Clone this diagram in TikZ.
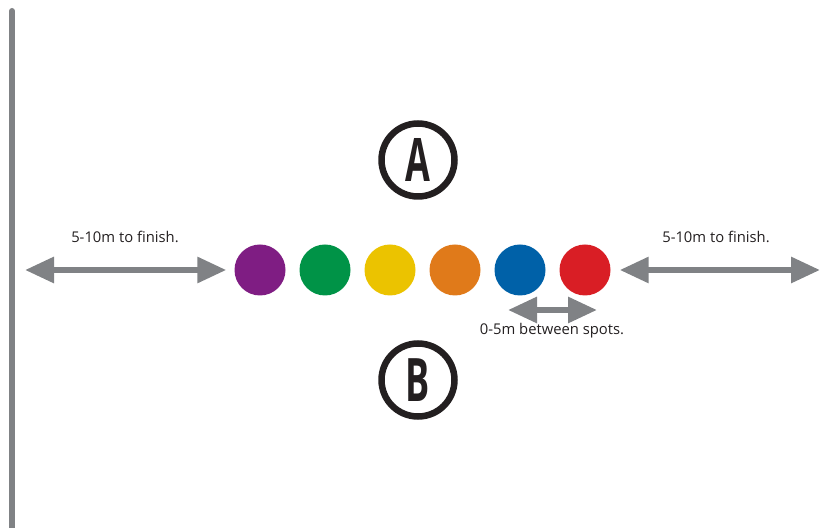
\documentclass[tikz,border=0pt]{standalone}
\usepackage{fontspec}
\setmainfont{Open Sans}
\usetikzlibrary{arrows.meta}

\definecolor{spotpurple}{HTML}{7F1D83}
\definecolor{spotgreen}{HTML}{009347}
\definecolor{spotyellow}{HTML}{EBC300}
\definecolor{spotorange}{HTML}{E07A1A}
\definecolor{spotblue}{HTML}{0061A8}
\definecolor{spotred}{HTML}{D91E25}
\definecolor{markgrey}{HTML}{808285}
\definecolor{inkgrey}{HTML}{231F20}

\tikzset{
  spot/.style={circle,minimum size=51pt,inner sep=0pt},
  team/.style={circle,draw=inkgrey,line width=6.5pt,minimum size=73pt,inner sep=0pt,
    text=inkgrey,font=\fontsize{60}{60}\selectfont\bfseries},
  dimarrow/.style={draw=markgrey,line width=6pt,
    {Triangle[length=29pt,width=25pt]}-{Triangle[length=29pt,width=25pt]}},
  label/.style={text=inkgrey,font=\fontsize{14.8}{16}\selectfont}
}

\begin{document}
\begin{tikzpicture}[x=1pt,y=1pt]
  \useasboundingbox (0,0) rectangle (826,527);
  % finish line
  \draw[markgrey,line width=6pt,line cap=round] (12,-5) -- (12,516);

  % teams
  \node (ta) at (418,367) [team] {\scalebox{0.6}[1]{A}};
  \node (tb) at (418,147) [team] {\scalebox{0.6}[1]{B}};

  % spots
  \node (pu) at (260,257) [spot,fill=spotpurple] {};
  \node (gr) at (325,257) [spot,fill=spotgreen] {};
  \node (ye) at (390,257) [spot,fill=spotyellow] {};
  \node (or) at (455,257) [spot,fill=spotorange] {};
  \node (bl) at (520,257) [spot,fill=spotblue] {};
  \node (re) at (585,257) [spot,fill=spotred] {};

  % distances
  \coordinate (lend) at (25,257);
  \coordinate (rend) at (820,257);
  \draw[dimarrow] (lend) -- ([xshift=-8pt]pu.west);
  \draw[dimarrow] ([xshift=9pt]re.east) -- (rend);
  \draw[dimarrow] ([shift={(-12pt,-40pt)}]bl.center) -- ([shift={(12pt,-40pt)}]re.center);

  \node (lt) at (125,290) [label] {5-10m to finish.};
  \node (rt) at (716,290) [label] {5-10m to finish.};
  \node (gap) at (552,196) [label] {0-5m between spots.};
\end{tikzpicture}
\end{document}
